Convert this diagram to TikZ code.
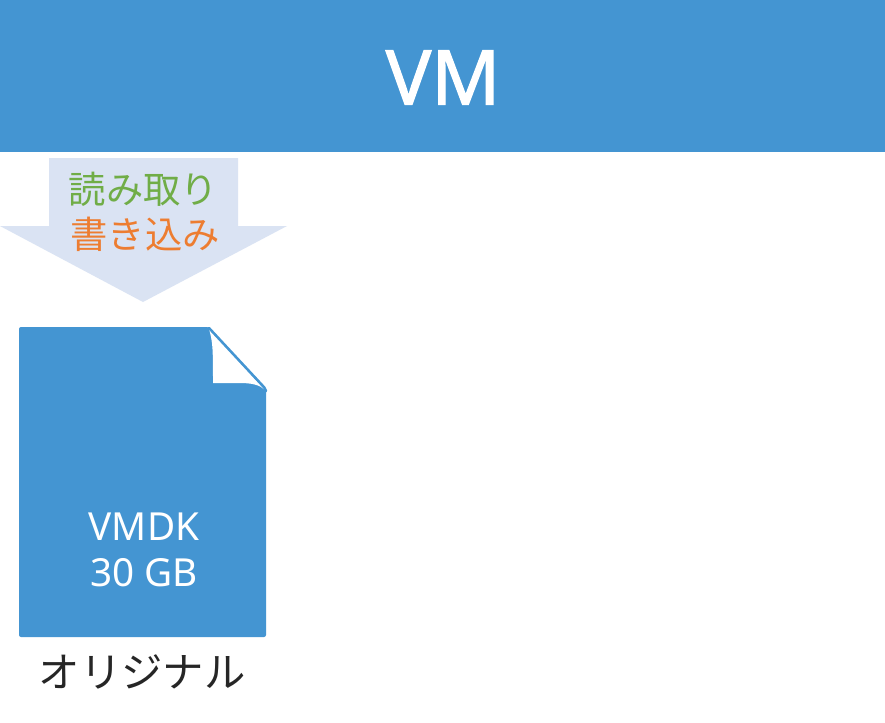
\documentclass[tikz,border=0pt]{standalone}
\usepackage{fontspec}
\setmainfont{Noto Sans}
\newfontfamily\cjk{Noto Sans CJK JP}
\newfontfamily\vmfont[FakeBold=1.6]{Noto Sans}
\definecolor{vmblue}{HTML}{4495D2}
\definecolor{arrowfill}{HTML}{DAE3F3}
\definecolor{readgreen}{HTML}{70AD47}
\definecolor{writeorange}{HTML}{ED7D31}
\definecolor{labeldark}{HTML}{262626}
\tikzset{
  pxtext/.style={inner sep=0pt, anchor=center, align=center},
}
\begin{document}
\begin{tikzpicture}[x=0.75pt,y=-0.75pt]
\useasboundingbox (0,0) rectangle (885,722);
\fill[white] (0,0) rectangle (885,722);
% banner
\fill[vmblue] (0,0) rectangle (885,152);
\node[pxtext,text=white,font=\fontsize{57}{57}\selectfont\vmfont] (vm) at (443,77.5) {VM};
% arrow
\fill[arrowfill] (49,158) -- (238,158) -- (238,226) -- (287,226) -- (143,302) -- (0,226) -- (49,226) -- cycle;
\node[pxtext,text=readgreen,font=\fontsize{28}{28}\selectfont\cjk] (read) at (143.5,189) {読み取り};
\node[pxtext,text=writeorange,font=\fontsize{28}{28}\selectfont\cjk] (write) at (145,234) {書き込み};
% document
\fill[vmblue,rounded corners=1.5pt] (19,327) -- (209,327) -- (266,389) -- (266,637) -- (19,637) -- cycle;
\fill[white] (209,327) -- (268,327) -- (268,388) -- cycle;
\fill[white] (209,329) .. controls (213,342) and (213,352) .. (213,383) -- (240,383) .. controls (252,383) and (260,385) .. (265,390) -- cycle;
\draw[vmblue,line width=1.9pt,line cap=round] (209,328) -- (262,385) .. controls (264,387) and (265,388) .. (266,391);
\node[pxtext,text=white,font=\fontsize{29}{34}\selectfont] (vmdk) at (144,550) {VMDK\\30 GB};
\node[pxtext,text=labeldark,font=\fontsize{31}{31}\selectfont\cjk] (orig) at (142,671.5) {オリジナル};
\end{tikzpicture}
\end{document}
